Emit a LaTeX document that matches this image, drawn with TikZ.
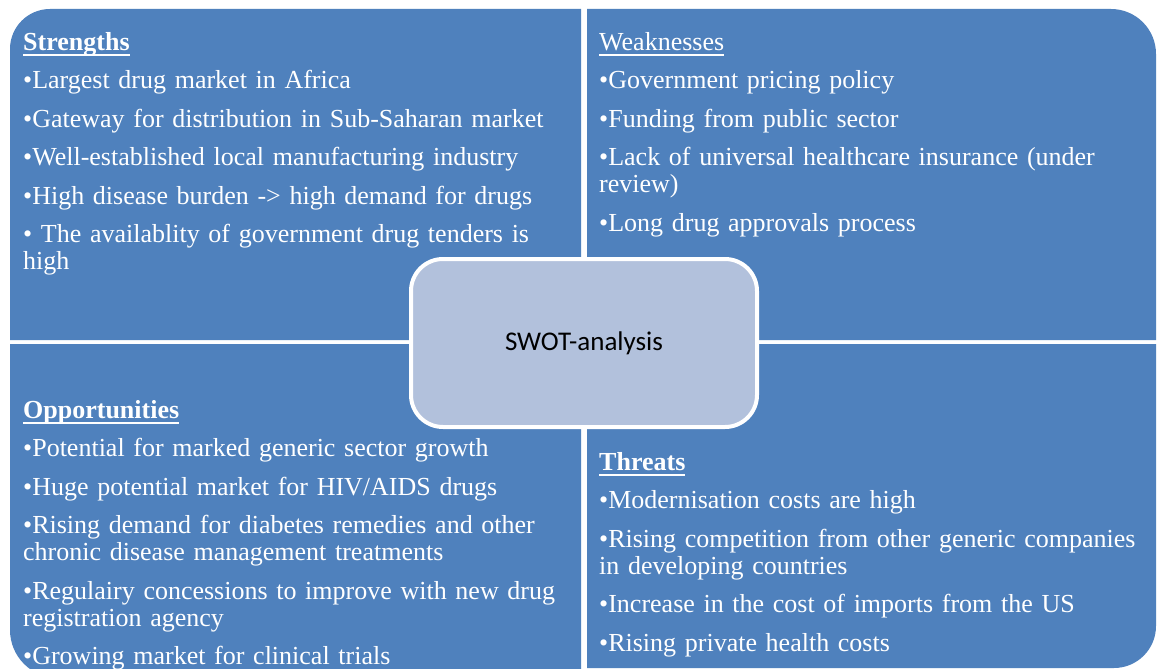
\documentclass[tikz,border=0pt]{standalone}
\usepackage{fontspec}
\setmainfont{Liberation Serif}
\newfontfamily\calibri{Carlito}
\usetikzlibrary{positioning}
\definecolor{swotblue}{HTML}{4F81BD}
\definecolor{swotcore}{HTML}{B2C1DC}
\newcommand{\swothead}[1]{\setbox0=\hbox{#1}\makebox[0pt][l]{\rule[-6pt]{\wd0}{2pt}}\box0}
\newcommand{\swotitem}[1]{\par\vspace{11.5pt}\textbullet#1}
\newcommand{\swotnobreak}{\parindent=0pt\relax\hyphenpenalty=10000\relax\exhyphenpenalty=10000\relax}

\begin{document}
\begin{tikzpicture}[
    x=1pt, y=-1pt,
    quad/.style={fill=swotblue},
    quadtext/.style={anchor=north west, inner sep=0pt, text width=548pt, align=left, text=white,
        font=\fontsize{26}{27}\selectfont, execute at begin node=\swotnobreak},
    core/.style={rectangle, rounded corners=32pt, fill=swotcore, draw=white, line width=4pt,
        minimum width=346pt, minimum height=168pt, inner sep=0pt, text=black,
        font=\calibri\fontsize{27}{30}\selectfont}
]
\useasboundingbox (0,0) rectangle (1163,669);
\fill[white] (0,0) rectangle (1163,669);
\clip (0,0) rectangle (1163,669);

\fill[quad] (10,340) -- (10,49) arc[start angle=180, end angle=270, radius=40] -- (581,9) -- (581,340) -- cycle;
\fill[quad] (587,340) -- (587,9) -- (1111,9) arc[start angle=270, end angle=360, radius=45] -- (1156,340) -- cycle;
\fill[quad] (10,344) -- (581,344) -- (581,678) -- (58,678) arc[start angle=90, end angle=180, radius=48] -- cycle;
\fill[quad] (587,344) -- (1156,344) -- (1156,626) arc[start angle=0, end angle=90, radius=42] -- (587,668) -- cycle;

\node[quadtext] (strengths) at (23,31.1) {\strut\swothead{\textbf{Strengths}}
    \swotitem{Largest drug market in Africa}
    \swotitem{Gateway for distribution in Sub-Saharan market}
    \swotitem{Well-established local manufacturing industry}
    \swotitem{High disease burden -> high demand for drugs}
    \swotitem{\ The availablity of government drug tenders is high}};
\node[quadtext] (weaknesses) at (599,31.1) {\strut\swothead{Weaknesses}
    \swotitem{Government pricing policy}
    \swotitem{Funding from public sector}
    \swotitem{Lack of universal healthcare insurance (under review)}
    \swotitem{Long drug approvals process}};
\node[quadtext] (opportunities) at (23,399.1) {\strut\swothead{\textbf{Opportunities}}
    \swotitem{Potential for marked generic sector growth}
    \swotitem{Huge potential market for HIV/AIDS drugs}
    \swotitem{Rising demand for diabetes remedies and other chronic disease management treatments}
    \swotitem{Regulairy concessions to improve with new drug registration agency}
    \swotitem{Growing market for clinical trials}};
\node[quadtext] (threats) at (599,451.1) {\strut\swothead{\textbf{Threats}}
    \swotitem{Modernisation costs are high}
    \swotitem{Rising competition from other generic companies in developing countries}
    \swotitem{Increase in the cost of imports from the US}
    \swotitem{Rising private health costs}};

\node[core] (swot) at (584,343) {SWOT-analysis};
\end{tikzpicture}
\end{document}
